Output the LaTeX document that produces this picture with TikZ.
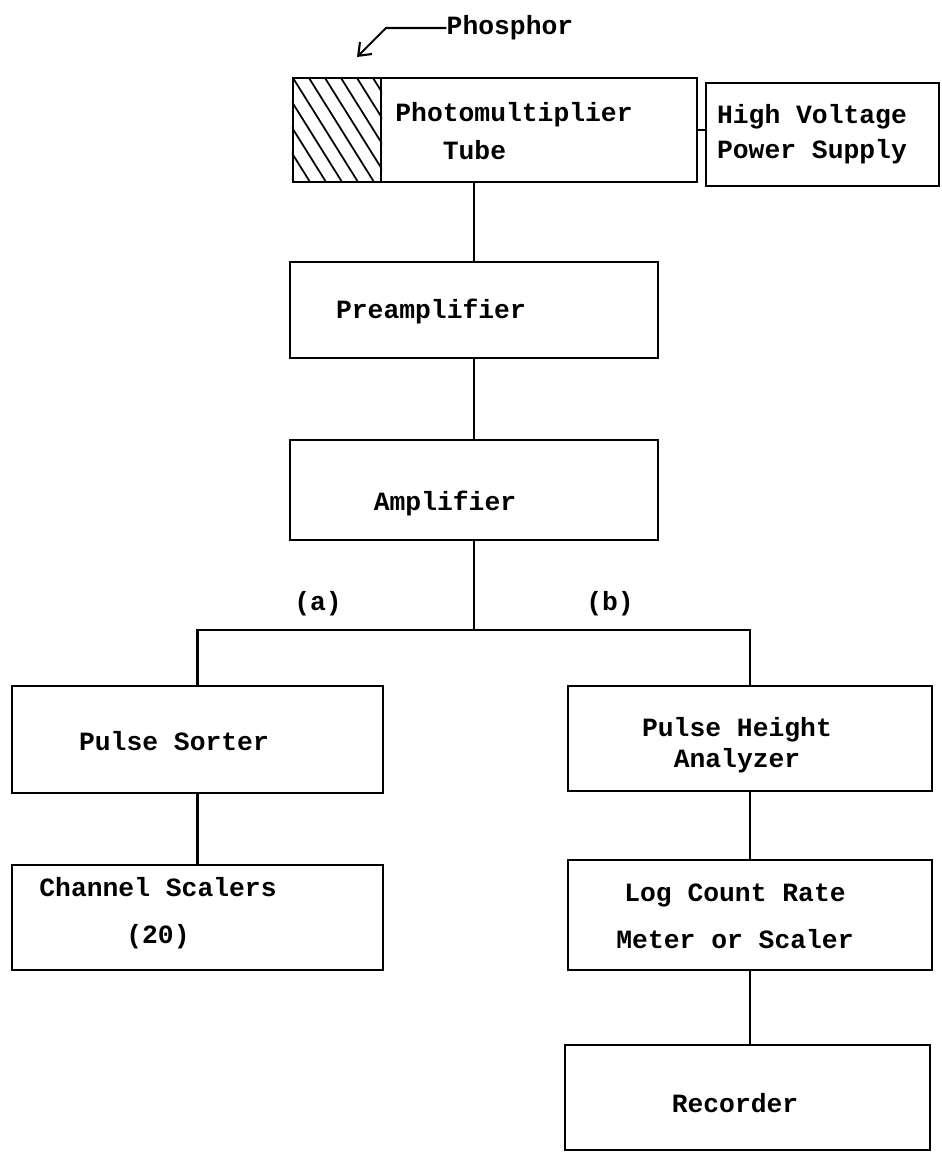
\documentclass[tikz,border=0pt]{standalone}
\usepackage{fontspec}
\usetikzlibrary{arrows.meta}
\setmonofont{Liberation Mono}
\tikzset{
	box/.style={draw, line width=1.2pt, inner sep=0pt},
	txt/.style={font=\ttfamily\bfseries\fontsize{15}{18}\selectfont, inner sep=0pt},
	wire/.style={line width=1.2pt}
}
\begin{document}
\begin{tikzpicture}[x=0.02cm, y=-0.02cm]
		\useasboundingbox (0,0) rectangle (941,1158);
		
		\node[box, minimum width=8.08cm, minimum height=2.08cm] (pmt) at (495,130) {};
		\node[box, minimum width=4.66cm, minimum height=2.06cm] (hv) at (822.5,134.5) {};
		\node[box, minimum width=7.36cm, minimum height=1.92cm] (pre) at (474,310) {};
		\node[box, minimum width=7.36cm, minimum height=2cm] (amp) at (474,490) {};
		\node[box, minimum width=7.42cm, minimum height=2.14cm] (sort) at (197.5,739.5) {};
		\node[box, minimum width=7.28cm, minimum height=2.1cm] (pha) at (750,738.5) {};
		\node[box, minimum width=7.42cm, minimum height=2.1cm] (chan) at (197.5,917.5) {};
		\node[box, minimum width=7.28cm, minimum height=2.2cm] (log) at (750,915) {};
		\node[box, minimum width=7.3cm, minimum height=2.1cm] (rec) at (747.5,1097.5) {};
		
		\node[box, minimum width=1.76cm, minimum height=2.08cm] (phos) at (337,130) {};
		\begin{scope}
			\clip (phos.south west) rectangle (phos.north east);
			\foreach \i in {-5,...,6}{
				\draw[line width=1pt] (293+\i*16,78) -- ++(65,104);
			}
		\end{scope}
		
		\node[txt, align=left] (pmt-t) at (514,131) {Photomultiplier\\[3.6pt]\hspace*{1.8em}Tube};
		\node[txt, align=left] (hv-t) at (812,134.5) {High Voltage\\[2pt]Power Supply};
		\node[txt] (pre-t) at (431,311) {Preamplifier};
		\node[txt] (amp-t) at (445,503) {Amplifier};
		\node[txt] (sort-t) at (174,741) {Pulse Sorter};
		\node[txt, align=center] (pha-t) at (737,745) {Pulse Height\\Analyzer};
		\node[txt, align=center] (chan-t) at (158,913) {Channel Scalers\\[8.8pt](20)};
		\node[txt, align=center] (log-t) at (735,916) {Log Count Rate\\[8.8pt]Meter or Scaler};
		\node[txt] (rec-t) at (735,1103) {Recorder};
		\node[txt] (a-t) at (318,604) {(a)};
		\node[txt] (b-t) at (610,604) {(b)};
		\node[txt] (phos-t) at (510,28) {Phosphor};
		
		\coordinate (phos-bend) at (386,28);
		\coordinate (phos-tip) at (357,57);
		\coordinate (split) at (474,630);
		
		\draw[wire, -{Straight Barb[length=2.2mm, width=3.4mm]}] (phos-t.west) -- (phos-bend) -- (phos-tip);
		\draw[wire] (pmt.east) -- (pmt.east -| hv.west);
		\draw[wire] (pre.north) -- (pre.north |- pmt.south);
		\draw[wire] (pre.south) -- (amp.north);
		\draw[wire] (amp.south) -- (split);
		\draw[wire] (sort.north) |- (split) -| (pha.north);
		\draw[wire] (sort.south) -- (chan.north);
		\draw[wire] (pha.south) -- (log.north);
		\draw[wire] (log.south) -- (log.south |- rec.north);
		
\end{tikzpicture}
\end{document}
